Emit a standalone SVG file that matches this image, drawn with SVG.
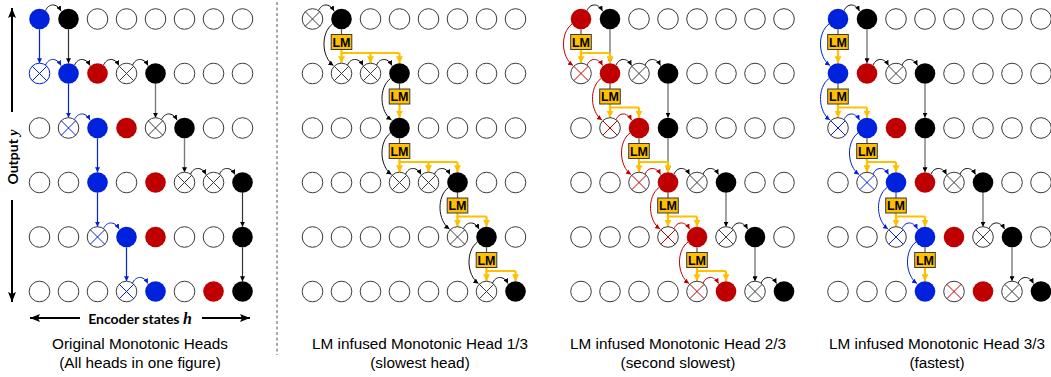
<svg xmlns="http://www.w3.org/2000/svg" xmlns:xlink="http://www.w3.org/1999/xlink" width="1051" height="377" viewBox="0 0 1051 377">
<style>
.ak{fill:none;stroke:#111;stroke-width:1;marker-end:url(#mk)}
.ab{fill:none;stroke:#0022DD;stroke-width:1;marker-end:url(#mb)}
.ar{fill:none;stroke:#C00000;stroke-width:1;marker-end:url(#mr)}
.vk{fill:none;stroke:#333;stroke-width:1.2;marker-end:url(#mk)}
.vg{fill:none;stroke:#7a7a7a;stroke-width:1.4;marker-end:url(#mk)}
.vb{fill:none;stroke:#0022DD;stroke-width:1.2;marker-end:url(#mb)}
.st{fill:none;stroke:#555;stroke-width:1.2}
.yl{fill:none;stroke:#FFC000;stroke-width:2.2}
.ya{fill:none;stroke:#FFC000;stroke-width:2.2;marker-end:url(#my)}
.lmb{fill:#FFC000;stroke:#3a3a3a;stroke-width:1}
.lmt{font-family:"Liberation Sans",Arial,sans-serif;font-weight:bold;font-size:12.5px;text-anchor:middle;fill:#000}
.cap{font-family:"Liberation Sans",Arial,sans-serif;font-size:15.3px;text-anchor:middle;fill:#000}
.ax{font-family:Lato,"Liberation Sans",sans-serif;font-weight:bold;font-size:14px;fill:#000}
.axl{fill:none;stroke:#000;stroke-width:2;marker-end:url(#ma)}
</style>
<defs>
<marker id="mk" viewBox="0 0 6 6" refX="6" refY="3" markerWidth="5" markerHeight="5" orient="auto" markerUnits="userSpaceOnUse"><path d="M0,0L6,3L0,6z" fill="#000"/></marker>
<marker id="mb" viewBox="0 0 6 6" refX="6" refY="3" markerWidth="5" markerHeight="5" orient="auto" markerUnits="userSpaceOnUse"><path d="M0,0L6,3L0,6z" fill="#0022DD"/></marker>
<marker id="mr" viewBox="0 0 6 6" refX="6" refY="3" markerWidth="5" markerHeight="5" orient="auto" markerUnits="userSpaceOnUse"><path d="M0,0L6,3L0,6z" fill="#C00000"/></marker>
<marker id="my" viewBox="0 0 6 6" refX="6" refY="3" markerWidth="7" markerHeight="7" orient="auto" markerUnits="userSpaceOnUse"><path d="M0,0L6,3L0,6z" fill="#FFC000"/></marker>
<marker id="ma" viewBox="0 0 10 8" refX="10" refY="4" markerWidth="10" markerHeight="8" orient="auto" markerUnits="userSpaceOnUse"><path d="M0,0L10,4L0,8L2,4z" fill="#000"/></marker>
<circle id="E" r="10.3" fill="#fff" stroke="#3a3a3a" stroke-width="1"/>
<circle id="K" r="10.3" fill="#000"/>
<circle id="B" r="10.3" fill="#0022DD"/>
<circle id="R" r="10.3" fill="#C00000"/>
<g id="XK"><circle r="10.3" fill="#fff" stroke="#3a3a3a" stroke-width="1"/><path d="M-7.3,-7.3L7.3,7.3M-7.3,7.3L7.3,-7.3" stroke="#3a3a3a" stroke-width="1"/></g>
<g id="XB"><circle r="10.3" fill="#fff" stroke="#3a3a3a" stroke-width="1"/><path d="M-7.3,-7.3L7.3,7.3M-7.3,7.3L7.3,-7.3" stroke="#0022DD" stroke-width="1"/></g>
<g id="XBB"><circle r="10.3" fill="#fff" stroke="#0022DD" stroke-width="1"/><path d="M-7.3,-7.3L7.3,7.3M-7.3,7.3L7.3,-7.3" stroke="#0022DD" stroke-width="1"/></g>
<g id="XR"><circle r="10.3" fill="#fff" stroke="#3a3a3a" stroke-width="1"/><path d="M-7.3,-7.3L7.3,7.3M-7.3,7.3L7.3,-7.3" stroke="#C00000" stroke-width="1"/></g>
</defs>
<rect width="1051" height="377" fill="#fff"/>

<g id="axes">
<path class="axl" d="M12,112V8"/>
<path class="axl" d="M12,200V302"/>
<path class="axl" d="M80,318H30"/>
<path class="axl" d="M202,318H250"/>
<text class="ax" transform="translate(18,157) rotate(-90)" text-anchor="middle">Output <tspan font-family="'Liberation Serif',serif" font-style="italic">y</tspan></text>
<text class="ax" x="140" y="324" text-anchor="middle">Encoder states <tspan font-family="'Liberation Serif',serif" font-style="italic" font-size="16px">h</tspan></text>
<path d="M277,2V355" stroke="#555" stroke-width="1" stroke-dasharray="3,2.5" fill="none"/>
</g>

<g id="connectors">
<!-- Panel 1 -->
<path class="ak" transform="translate(39.5,19)" d="M6,-8.3c3,-7.2 11,-8.2 15.5,0.3"/>
<path class="ab" transform="translate(39.5,73.5)" d="M6,-8.3c3,-7.2 11,-8.2 15.5,0.3"/>
<path class="ak" transform="translate(68.5,73.5)" d="M6,-8.3c3,-7.2 11,-8.2 15.5,0.3"/>
<path class="ak" transform="translate(97.5,73.5)" d="M6,-8.3c3,-7.2 11,-8.2 15.5,0.3"/>
<path class="ak" transform="translate(126.5,73.5)" d="M6,-8.3c3,-7.2 11,-8.2 15.5,0.3"/>
<path class="ab" transform="translate(68.5,128)" d="M6,-8.3c3,-7.2 11,-8.2 15.5,0.3"/>
<path class="ak" transform="translate(155.5,128)" d="M6,-8.3c3,-7.2 11,-8.2 15.5,0.3"/>
<path class="ak" transform="translate(184.5,182.5)" d="M6,-8.3c3,-7.2 11,-8.2 15.5,0.3"/>
<path class="ak" transform="translate(213.5,182.5)" d="M6,-8.3c3,-7.2 11,-8.2 15.5,0.3"/>
<path class="ab" transform="translate(97.5,237)" d="M6,-8.3c3,-7.2 11,-8.2 15.5,0.3"/>
<path class="ab" transform="translate(126.5,291.5)" d="M6,-8.3c3,-7.2 11,-8.2 15.5,0.3"/>
<path class="vb" d="M39.5,29.3V63.2"/>
<path class="vb" d="M68.5,83.8V117.7"/>
<path class="vb" d="M97.5,138.3V172.2"/>
<path class="vb" d="M97.5,192.8V226.7"/>
<path class="vb" d="M126.5,247.3V281.2"/>
<path class="vk" d="M68.5,29.3V63.2"/>
<path class="vg" d="M155.5,83.8V117.7"/>
<path class="vg" d="M184.5,138.3V172.2"/>
<path class="vk" d="M242.5,192.8V226.7"/>
<path class="vk" d="M242.5,247.3V281.2"/>

<!-- Panel 2 -->
<path class="ak" transform="translate(312.5,19)" d="M6,-8.3c3,-7.2 11,-8.2 15.5,0.3"/>
<path class="ak" transform="translate(341.5,73.5)" d="M6,-8.3c3,-7.2 11,-8.2 15.5,0.3"/>
<path class="ak" transform="translate(370.5,73.5)" d="M6,-8.3c3,-7.2 11,-8.2 15.5,0.3"/>
<path class="ak" transform="translate(399.5,182.5)" d="M6,-8.3c3,-7.2 11,-8.2 15.5,0.3"/>
<path class="ak" transform="translate(428.5,182.5)" d="M6,-8.3c3,-7.2 11,-8.2 15.5,0.3"/>
<path class="ak" transform="translate(457.5,237)" d="M6,-8.3c3,-7.2 11,-8.2 15.5,0.3"/>
<path class="ak" transform="translate(486.5,291.5)" d="M6,-8.3c3,-7.2 11,-8.2 15.5,0.3"/>
<path class="ak" transform="translate(341.5,19)" d="M-9,5C-21,14 -20,38 -8,46.5"/>
<path class="ak" transform="translate(399.5,73.5)" d="M-9,5C-21,14 -20,38 -8,46.5"/>
<path class="ak" transform="translate(399.5,128)" d="M-9,5C-21,14 -20,38 -8,46.5"/>
<path class="ak" transform="translate(457.5,182.5)" d="M-9,5C-21,14 -20,38 -8,46.5"/>
<path class="ak" transform="translate(486.5,237)" d="M-9,5C-21,14 -20,38 -8,46.5"/>
<path class="st" d="M341.5,29.3V34.5M399.5,83.8V89M399.5,138.3V143.5M457.5,192.8V198M486.5,247.3V252.5"/>
<path class="yl" d="M341.5,49.5V53H399.5"/>
<path class="ya" d="M341.5,53V63.2"/><path class="ya" d="M370.5,53V63.2"/><path class="ya" d="M399.5,53V63.2"/>
<path class="ya" d="M399.5,104V117.7"/>
<path class="yl" d="M399.5,158.5V162H457.5"/>
<path class="ya" d="M399.5,162V172.2"/><path class="ya" d="M428.5,162V172.2"/><path class="ya" d="M457.5,162V172.2"/>
<path class="yl" d="M457.5,213V216.5H486.5"/>
<path class="ya" d="M457.5,216.5V226.7"/><path class="ya" d="M486.5,216.5V226.7"/>
<path class="yl" d="M486.5,267.5V271H515.5"/>
<path class="ya" d="M486.5,271V281.2"/><path class="ya" d="M515.5,271V281.2"/>

<!-- Panel 3 -->
<path class="ak" transform="translate(581,19)" d="M6,-8.3c3,-7.2 11,-8.2 15.5,0.3"/>
<path class="ar" transform="translate(581,73.5)" d="M6,-8.3c3,-7.2 11,-8.2 15.5,0.3"/>
<path class="ak" transform="translate(610,73.5)" d="M6,-8.3c3,-7.2 11,-8.2 15.5,0.3"/>
<path class="ak" transform="translate(639,73.5)" d="M6,-8.3c3,-7.2 11,-8.2 15.5,0.3"/>
<path class="ar" transform="translate(610,128)" d="M6,-8.3c3,-7.2 11,-8.2 15.5,0.3"/>
<path class="ar" transform="translate(639,182.5)" d="M6,-8.3c3,-7.2 11,-8.2 15.5,0.3"/>
<path class="ak" transform="translate(668,182.5)" d="M6,-8.3c3,-7.2 11,-8.2 15.5,0.3"/>
<path class="ak" transform="translate(697,182.5)" d="M6,-8.3c3,-7.2 11,-8.2 15.5,0.3"/>
<path class="ar" transform="translate(668,237)" d="M6,-8.3c3,-7.2 11,-8.2 15.5,0.3"/>
<path class="ak" transform="translate(726,237)" d="M6,-8.3c3,-7.2 11,-8.2 15.5,0.3"/>
<path class="ar" transform="translate(697,291.5)" d="M6,-8.3c3,-7.2 11,-8.2 15.5,0.3"/>
<path class="ak" transform="translate(755,291.5)" d="M6,-8.3c3,-7.2 11,-8.2 15.5,0.3"/>
<path class="ar" transform="translate(581,19)" d="M-9,5C-21,14 -20,38 -8,46.5"/>
<path class="ar" transform="translate(610,73.5)" d="M-9,5C-21,14 -20,38 -8,46.5"/>
<path class="ar" transform="translate(639,128)" d="M-9,5C-21,14 -20,38 -8,46.5"/>
<path class="ar" transform="translate(668,182.5)" d="M-9,5C-21,14 -20,38 -8,46.5"/>
<path class="ar" transform="translate(697,237)" d="M-9,5C-21,14 -20,38 -8,46.5"/>
<path class="vg" d="M610,29.3V63.2"/>
<path class="vg" d="M668,83.8V117.7"/>
<path class="vg" d="M668,138.3V172.2"/>
<path class="vg" d="M726,192.8V226.7"/>
<path class="vg" d="M755,247.3V281.2"/>
<path class="st" d="M581,29.3V34.5M610,83.8V89M639,138.3V143.5M668,192.8V198M697,247.3V252.5"/>
<path class="yl" d="M581,49.5V53H610"/>
<path class="ya" d="M581,53V63.2"/><path class="ya" d="M610,53V63.2"/>
<path class="yl" d="M610,104V107.5H639"/>
<path class="ya" d="M610,107.5V117.7"/><path class="ya" d="M639,107.5V117.7"/>
<path class="yl" d="M639,158.5V162H668"/>
<path class="ya" d="M639,162V172.2"/><path class="ya" d="M668,162V172.2"/>
<path class="yl" d="M668,213V216.5H697"/>
<path class="ya" d="M668,216.5V226.7"/><path class="ya" d="M697,216.5V226.7"/>
<path class="yl" d="M697,267.5V271H726"/>
<path class="ya" d="M697,271V281.2"/><path class="ya" d="M726,271V281.2"/>

<!-- Panel 4 -->
<path class="ak" transform="translate(838,19)" d="M6,-8.3c3,-7.2 11,-8.2 15.5,0.3"/>
<path class="ak" transform="translate(867,73.5)" d="M6,-8.3c3,-7.2 11,-8.2 15.5,0.3"/>
<path class="ak" transform="translate(896,73.5)" d="M6,-8.3c3,-7.2 11,-8.2 15.5,0.3"/>
<path class="ab" transform="translate(838,128)" d="M6,-8.3c3,-7.2 11,-8.2 15.5,0.3"/>
<path class="ab" transform="translate(867,182.5)" d="M6,-8.3c3,-7.2 11,-8.2 15.5,0.3"/>
<path class="ak" transform="translate(925,182.5)" d="M6,-8.3c3,-7.2 11,-8.2 15.5,0.3"/>
<path class="ak" transform="translate(954,182.5)" d="M6,-8.3c3,-7.2 11,-8.2 15.5,0.3"/>
<path class="ab" transform="translate(896,237)" d="M6,-8.3c3,-7.2 11,-8.2 15.5,0.3"/>
<path class="ak" transform="translate(983,237)" d="M6,-8.3c3,-7.2 11,-8.2 15.5,0.3"/>
<path class="ak" transform="translate(1012,291.5)" d="M6,-8.3c3,-7.2 11,-8.2 15.5,0.3"/>
<path class="ab" transform="translate(838,19)" d="M-9,5C-21,14 -20,38 -8,46.5"/>
<path class="ab" transform="translate(838,73.5)" d="M-9,5C-21,14 -20,38 -8,46.5"/>
<path class="ab" transform="translate(867,128)" d="M-9,5C-21,14 -20,38 -8,46.5"/>
<path class="ab" transform="translate(896,182.5)" d="M-9,5C-21,14 -20,38 -8,46.5"/>
<path class="ab" transform="translate(925,237)" d="M-9,5C-21,14 -20,38 -8,46.5"/>
<path class="vg" d="M867,29.3V63.2"/>
<path class="vg" d="M925,83.8V117.7"/>
<path class="vg" d="M925,138.3V172.2"/>
<path class="vg" d="M983,192.8V226.7"/>
<path class="vg" d="M1012,247.3V281.2"/>
<path class="st" d="M838,29.3V34.5M838,83.8V89M867,138.3V143.5M896,192.8V198M925,247.3V252.5"/>
<path class="ya" d="M838,49.5V63.2"/>
<path class="yl" d="M838,104V107.5H867"/>
<path class="ya" d="M838,107.5V117.7"/><path class="ya" d="M867,107.5V117.7"/>
<path class="yl" d="M867,158.5V162H896"/>
<path class="ya" d="M867,162V172.2"/><path class="ya" d="M896,162V172.2"/>
<path class="yl" d="M896,213V216.5H925"/>
<path class="ya" d="M896,216.5V226.7"/><path class="ya" d="M925,216.5V226.7"/>
<path class="ya" d="M925,267.5V281.2"/>
</g>

<g id="panel1">
<g id="p1r0c0"><use href="#B" x="39.5" y="19"/></g><g id="p1r0c1"><use href="#K" x="68.5" y="19"/></g><g id="p1r0c2"><use href="#E" x="97.5" y="19"/></g><g id="p1r0c3"><use href="#E" x="126.5" y="19"/></g><g id="p1r0c4"><use href="#E" x="155.5" y="19"/></g><g id="p1r0c5"><use href="#E" x="184.5" y="19"/></g><g id="p1r0c6"><use href="#E" x="213.5" y="19"/></g><g id="p1r0c7"><use href="#E" x="242.5" y="19"/></g>
<g id="p1r1c0"><use href="#XBB" x="39.5" y="73.5"/></g><g id="p1r1c1"><use href="#B" x="68.5" y="73.5"/></g><g id="p1r1c2"><use href="#R" x="97.5" y="73.5"/></g><g id="p1r1c3"><use href="#XK" x="126.5" y="73.5"/></g><g id="p1r1c4"><use href="#K" x="155.5" y="73.5"/></g><g id="p1r1c5"><use href="#E" x="184.5" y="73.5"/></g><g id="p1r1c6"><use href="#E" x="213.5" y="73.5"/></g><g id="p1r1c7"><use href="#E" x="242.5" y="73.5"/></g>
<g id="p1r2c0"><use href="#E" x="39.5" y="128"/></g><g id="p1r2c1"><use href="#XB" x="68.5" y="128"/></g><g id="p1r2c2"><use href="#B" x="97.5" y="128"/></g><g id="p1r2c3"><use href="#R" x="126.5" y="128"/></g><g id="p1r2c4"><use href="#XK" x="155.5" y="128"/></g><g id="p1r2c5"><use href="#K" x="184.5" y="128"/></g><g id="p1r2c6"><use href="#E" x="213.5" y="128"/></g><g id="p1r2c7"><use href="#E" x="242.5" y="128"/></g>
<g id="p1r3c0"><use href="#E" x="39.5" y="182.5"/></g><g id="p1r3c1"><use href="#E" x="68.5" y="182.5"/></g><g id="p1r3c2"><use href="#B" x="97.5" y="182.5"/></g><g id="p1r3c3"><use href="#E" x="126.5" y="182.5"/></g><g id="p1r3c4"><use href="#R" x="155.5" y="182.5"/></g><g id="p1r3c5"><use href="#XK" x="184.5" y="182.5"/></g><g id="p1r3c6"><use href="#XK" x="213.5" y="182.5"/></g><g id="p1r3c7"><use href="#K" x="242.5" y="182.5"/></g>
<g id="p1r4c0"><use href="#E" x="39.5" y="237"/></g><g id="p1r4c1"><use href="#E" x="68.5" y="237"/></g><g id="p1r4c2"><use href="#XB" x="97.5" y="237"/></g><g id="p1r4c3"><use href="#B" x="126.5" y="237"/></g><g id="p1r4c4"><use href="#R" x="155.5" y="237"/></g><g id="p1r4c5"><use href="#E" x="184.5" y="237"/></g><g id="p1r4c6"><use href="#E" x="213.5" y="237"/></g><g id="p1r4c7"><use href="#K" x="242.5" y="237"/></g>
<g id="p1r5c0"><use href="#E" x="39.5" y="291.5"/></g><g id="p1r5c1"><use href="#E" x="68.5" y="291.5"/></g><g id="p1r5c2"><use href="#E" x="97.5" y="291.5"/></g><g id="p1r5c3"><use href="#XB" x="126.5" y="291.5"/></g><g id="p1r5c4"><use href="#B" x="155.5" y="291.5"/></g><g id="p1r5c5"><use href="#E" x="184.5" y="291.5"/></g><g id="p1r5c6"><use href="#R" x="213.5" y="291.5"/></g><g id="p1r5c7"><use href="#K" x="242.5" y="291.5"/></g>
<text class="cap" x="140" y="349">Original Monotonic Heads</text>
<text class="cap" x="140" y="368">(All heads in one figure)</text>
</g>

<g id="panel2">
<g id="p2r0c0"><use href="#XK" x="312.5" y="19"/></g><g id="p2r0c1"><use href="#K" x="341.5" y="19"/></g><g id="p2r0c2"><use href="#E" x="370.5" y="19"/></g><g id="p2r0c3"><use href="#E" x="399.5" y="19"/></g><g id="p2r0c4"><use href="#E" x="428.5" y="19"/></g><g id="p2r0c5"><use href="#E" x="457.5" y="19"/></g><g id="p2r0c6"><use href="#E" x="486.5" y="19"/></g><g id="p2r0c7"><use href="#E" x="515.5" y="19"/></g>
<g id="p2r1c0"><use href="#E" x="312.5" y="73.5"/></g><g id="p2r1c1"><use href="#XK" x="341.5" y="73.5"/></g><g id="p2r1c2"><use href="#XK" x="370.5" y="73.5"/></g><g id="p2r1c3"><use href="#K" x="399.5" y="73.5"/></g><g id="p2r1c4"><use href="#E" x="428.5" y="73.5"/></g><g id="p2r1c5"><use href="#E" x="457.5" y="73.5"/></g><g id="p2r1c6"><use href="#E" x="486.5" y="73.5"/></g><g id="p2r1c7"><use href="#E" x="515.5" y="73.5"/></g>
<g id="p2r2c0"><use href="#E" x="312.5" y="128"/></g><g id="p2r2c1"><use href="#E" x="341.5" y="128"/></g><g id="p2r2c2"><use href="#E" x="370.5" y="128"/></g><g id="p2r2c3"><use href="#K" x="399.5" y="128"/></g><g id="p2r2c4"><use href="#E" x="428.5" y="128"/></g><g id="p2r2c5"><use href="#E" x="457.5" y="128"/></g><g id="p2r2c6"><use href="#E" x="486.5" y="128"/></g><g id="p2r2c7"><use href="#E" x="515.5" y="128"/></g>
<g id="p2r3c0"><use href="#E" x="312.5" y="182.5"/></g><g id="p2r3c1"><use href="#E" x="341.5" y="182.5"/></g><g id="p2r3c2"><use href="#E" x="370.5" y="182.5"/></g><g id="p2r3c3"><use href="#XK" x="399.5" y="182.5"/></g><g id="p2r3c4"><use href="#XK" x="428.5" y="182.5"/></g><g id="p2r3c5"><use href="#K" x="457.5" y="182.5"/></g><g id="p2r3c6"><use href="#E" x="486.5" y="182.5"/></g><g id="p2r3c7"><use href="#E" x="515.5" y="182.5"/></g>
<g id="p2r4c0"><use href="#E" x="312.5" y="237"/></g><g id="p2r4c1"><use href="#E" x="341.5" y="237"/></g><g id="p2r4c2"><use href="#E" x="370.5" y="237"/></g><g id="p2r4c3"><use href="#E" x="399.5" y="237"/></g><g id="p2r4c4"><use href="#E" x="428.5" y="237"/></g><g id="p2r4c5"><use href="#XK" x="457.5" y="237"/></g><g id="p2r4c6"><use href="#K" x="486.5" y="237"/></g><g id="p2r4c7"><use href="#E" x="515.5" y="237"/></g>
<g id="p2r5c0"><use href="#E" x="312.5" y="291.5"/></g><g id="p2r5c1"><use href="#E" x="341.5" y="291.5"/></g><g id="p2r5c2"><use href="#E" x="370.5" y="291.5"/></g><g id="p2r5c3"><use href="#E" x="399.5" y="291.5"/></g><g id="p2r5c4"><use href="#E" x="428.5" y="291.5"/></g><g id="p2r5c5"><use href="#E" x="457.5" y="291.5"/></g><g id="p2r5c6"><use href="#XK" x="486.5" y="291.5"/></g><g id="p2r5c7"><use href="#K" x="515.5" y="291.5"/></g>
<g id="p2lm0"><rect class="lmb" x="331.2" y="34.5" width="20.6" height="15"/><text class="lmt" x="341.5" y="46.5">LM</text></g>
<g id="p2lm1"><rect class="lmb" x="389.2" y="89" width="20.6" height="15"/><text class="lmt" x="399.5" y="101">LM</text></g>
<g id="p2lm2"><rect class="lmb" x="389.2" y="143.5" width="20.6" height="15"/><text class="lmt" x="399.5" y="155.5">LM</text></g>
<g id="p2lm3"><rect class="lmb" x="447.2" y="198" width="20.6" height="15"/><text class="lmt" x="457.5" y="210">LM</text></g>
<g id="p2lm4"><rect class="lmb" x="476.2" y="252.5" width="20.6" height="15"/><text class="lmt" x="486.5" y="264.5">LM</text></g>
<text class="cap" x="420" y="349">LM infused Monotonic Head 1/3</text>
<text class="cap" x="420" y="368">(slowest head)</text>
</g>

<g id="panel3">
<g id="p3r0c0"><use href="#R" x="581" y="19"/></g><g id="p3r0c1"><use href="#K" x="610" y="19"/></g><g id="p3r0c2"><use href="#E" x="639" y="19"/></g><g id="p3r0c3"><use href="#E" x="668" y="19"/></g><g id="p3r0c4"><use href="#E" x="697" y="19"/></g><g id="p3r0c5"><use href="#E" x="726" y="19"/></g><g id="p3r0c6"><use href="#E" x="755" y="19"/></g><g id="p3r0c7"><use href="#E" x="784" y="19"/></g>
<g id="p3r1c0"><use href="#XR" x="581" y="73.5"/></g><g id="p3r1c1"><use href="#R" x="610" y="73.5"/></g><g id="p3r1c2"><use href="#XK" x="639" y="73.5"/></g><g id="p3r1c3"><use href="#K" x="668" y="73.5"/></g><g id="p3r1c4"><use href="#E" x="697" y="73.5"/></g><g id="p3r1c5"><use href="#E" x="726" y="73.5"/></g><g id="p3r1c6"><use href="#E" x="755" y="73.5"/></g><g id="p3r1c7"><use href="#E" x="784" y="73.5"/></g>
<g id="p3r2c0"><use href="#E" x="581" y="128"/></g><g id="p3r2c1"><use href="#XR" x="610" y="128"/></g><g id="p3r2c2"><use href="#R" x="639" y="128"/></g><g id="p3r2c3"><use href="#K" x="668" y="128"/></g><g id="p3r2c4"><use href="#E" x="697" y="128"/></g><g id="p3r2c5"><use href="#E" x="726" y="128"/></g><g id="p3r2c6"><use href="#E" x="755" y="128"/></g><g id="p3r2c7"><use href="#E" x="784" y="128"/></g>
<g id="p3r3c0"><use href="#E" x="581" y="182.5"/></g><g id="p3r3c1"><use href="#E" x="610" y="182.5"/></g><g id="p3r3c2"><use href="#XR" x="639" y="182.5"/></g><g id="p3r3c3"><use href="#R" x="668" y="182.5"/></g><g id="p3r3c4"><use href="#XK" x="697" y="182.5"/></g><g id="p3r3c5"><use href="#K" x="726" y="182.5"/></g><g id="p3r3c6"><use href="#E" x="755" y="182.5"/></g><g id="p3r3c7"><use href="#E" x="784" y="182.5"/></g>
<g id="p3r4c0"><use href="#E" x="581" y="237"/></g><g id="p3r4c1"><use href="#E" x="610" y="237"/></g><g id="p3r4c2"><use href="#E" x="639" y="237"/></g><g id="p3r4c3"><use href="#XR" x="668" y="237"/></g><g id="p3r4c4"><use href="#R" x="697" y="237"/></g><g id="p3r4c5"><use href="#XK" x="726" y="237"/></g><g id="p3r4c6"><use href="#K" x="755" y="237"/></g><g id="p3r4c7"><use href="#E" x="784" y="237"/></g>
<g id="p3r5c0"><use href="#E" x="581" y="291.5"/></g><g id="p3r5c1"><use href="#E" x="610" y="291.5"/></g><g id="p3r5c2"><use href="#E" x="639" y="291.5"/></g><g id="p3r5c3"><use href="#E" x="668" y="291.5"/></g><g id="p3r5c4"><use href="#XR" x="697" y="291.5"/></g><g id="p3r5c5"><use href="#R" x="726" y="291.5"/></g><g id="p3r5c6"><use href="#XK" x="755" y="291.5"/></g><g id="p3r5c7"><use href="#K" x="784" y="291.5"/></g>
<g id="p3lm0"><rect class="lmb" x="570.7" y="34.5" width="20.6" height="15"/><text class="lmt" x="581" y="46.5">LM</text></g>
<g id="p3lm1"><rect class="lmb" x="599.7" y="89" width="20.6" height="15"/><text class="lmt" x="610" y="101">LM</text></g>
<g id="p3lm2"><rect class="lmb" x="628.7" y="143.5" width="20.6" height="15"/><text class="lmt" x="639" y="155.5">LM</text></g>
<g id="p3lm3"><rect class="lmb" x="657.7" y="198" width="20.6" height="15"/><text class="lmt" x="668" y="210">LM</text></g>
<g id="p3lm4"><rect class="lmb" x="686.7" y="252.5" width="20.6" height="15"/><text class="lmt" x="697" y="264.5">LM</text></g>
<text class="cap" x="678" y="349">LM infused Monotonic Head 2/3</text>
<text class="cap" x="678" y="368">(second slowest)</text>
</g>

<g id="panel4">
<g id="p4r0c0"><use href="#B" x="838" y="19"/></g><g id="p4r0c1"><use href="#K" x="867" y="19"/></g><g id="p4r0c2"><use href="#E" x="896" y="19"/></g><g id="p4r0c3"><use href="#E" x="925" y="19"/></g><g id="p4r0c4"><use href="#E" x="954" y="19"/></g><g id="p4r0c5"><use href="#E" x="983" y="19"/></g><g id="p4r0c6"><use href="#E" x="1012" y="19"/></g><g id="p4r0c7"><use href="#E" x="1041" y="19"/></g>
<g id="p4r1c0"><use href="#B" x="838" y="73.5"/></g><g id="p4r1c1"><use href="#R" x="867" y="73.5"/></g><g id="p4r1c2"><use href="#XK" x="896" y="73.5"/></g><g id="p4r1c3"><use href="#K" x="925" y="73.5"/></g><g id="p4r1c4"><use href="#E" x="954" y="73.5"/></g><g id="p4r1c5"><use href="#E" x="983" y="73.5"/></g><g id="p4r1c6"><use href="#E" x="1012" y="73.5"/></g><g id="p4r1c7"><use href="#E" x="1041" y="73.5"/></g>
<g id="p4r2c0"><use href="#XB" x="838" y="128"/></g><g id="p4r2c1"><use href="#B" x="867" y="128"/></g><g id="p4r2c2"><use href="#R" x="896" y="128"/></g><g id="p4r2c3"><use href="#K" x="925" y="128"/></g><g id="p4r2c4"><use href="#E" x="954" y="128"/></g><g id="p4r2c5"><use href="#E" x="983" y="128"/></g><g id="p4r2c6"><use href="#E" x="1012" y="128"/></g><g id="p4r2c7"><use href="#E" x="1041" y="128"/></g>
<g id="p4r3c0"><use href="#E" x="838" y="182.5"/></g><g id="p4r3c1"><use href="#XB" x="867" y="182.5"/></g><g id="p4r3c2"><use href="#B" x="896" y="182.5"/></g><g id="p4r3c3"><use href="#R" x="925" y="182.5"/></g><g id="p4r3c4"><use href="#XK" x="954" y="182.5"/></g><g id="p4r3c5"><use href="#K" x="983" y="182.5"/></g><g id="p4r3c6"><use href="#E" x="1012" y="182.5"/></g><g id="p4r3c7"><use href="#E" x="1041" y="182.5"/></g>
<g id="p4r4c0"><use href="#E" x="838" y="237"/></g><g id="p4r4c1"><use href="#E" x="867" y="237"/></g><g id="p4r4c2"><use href="#XB" x="896" y="237"/></g><g id="p4r4c3"><use href="#B" x="925" y="237"/></g><g id="p4r4c4"><use href="#R" x="954" y="237"/></g><g id="p4r4c5"><use href="#XK" x="983" y="237"/></g><g id="p4r4c6"><use href="#K" x="1012" y="237"/></g><g id="p4r4c7"><use href="#E" x="1041" y="237"/></g>
<g id="p4r5c0"><use href="#E" x="838" y="291.5"/></g><g id="p4r5c1"><use href="#E" x="867" y="291.5"/></g><g id="p4r5c2"><use href="#E" x="896" y="291.5"/></g><g id="p4r5c3"><use href="#B" x="925" y="291.5"/></g><g id="p4r5c4"><use href="#XR" x="954" y="291.5"/></g><g id="p4r5c5"><use href="#R" x="983" y="291.5"/></g><g id="p4r5c6"><use href="#XK" x="1012" y="291.5"/></g><g id="p4r5c7"><use href="#K" x="1041" y="291.5"/></g>
<g id="p4lm0"><rect class="lmb" x="827.7" y="34.5" width="20.6" height="15"/><text class="lmt" x="838" y="46.5">LM</text></g>
<g id="p4lm1"><rect class="lmb" x="827.7" y="89" width="20.6" height="15"/><text class="lmt" x="838" y="101">LM</text></g>
<g id="p4lm2"><rect class="lmb" x="856.7" y="143.5" width="20.6" height="15"/><text class="lmt" x="867" y="155.5">LM</text></g>
<g id="p4lm3"><rect class="lmb" x="885.7" y="198" width="20.6" height="15"/><text class="lmt" x="896" y="210">LM</text></g>
<g id="p4lm4"><rect class="lmb" x="914.7" y="252.5" width="20.6" height="15"/><text class="lmt" x="925" y="264.5">LM</text></g>
<text class="cap" x="937" y="349">LM infused Monotonic Head 3/3</text>
<text class="cap" x="937" y="368">(fastest)</text>
</g>
</svg>
